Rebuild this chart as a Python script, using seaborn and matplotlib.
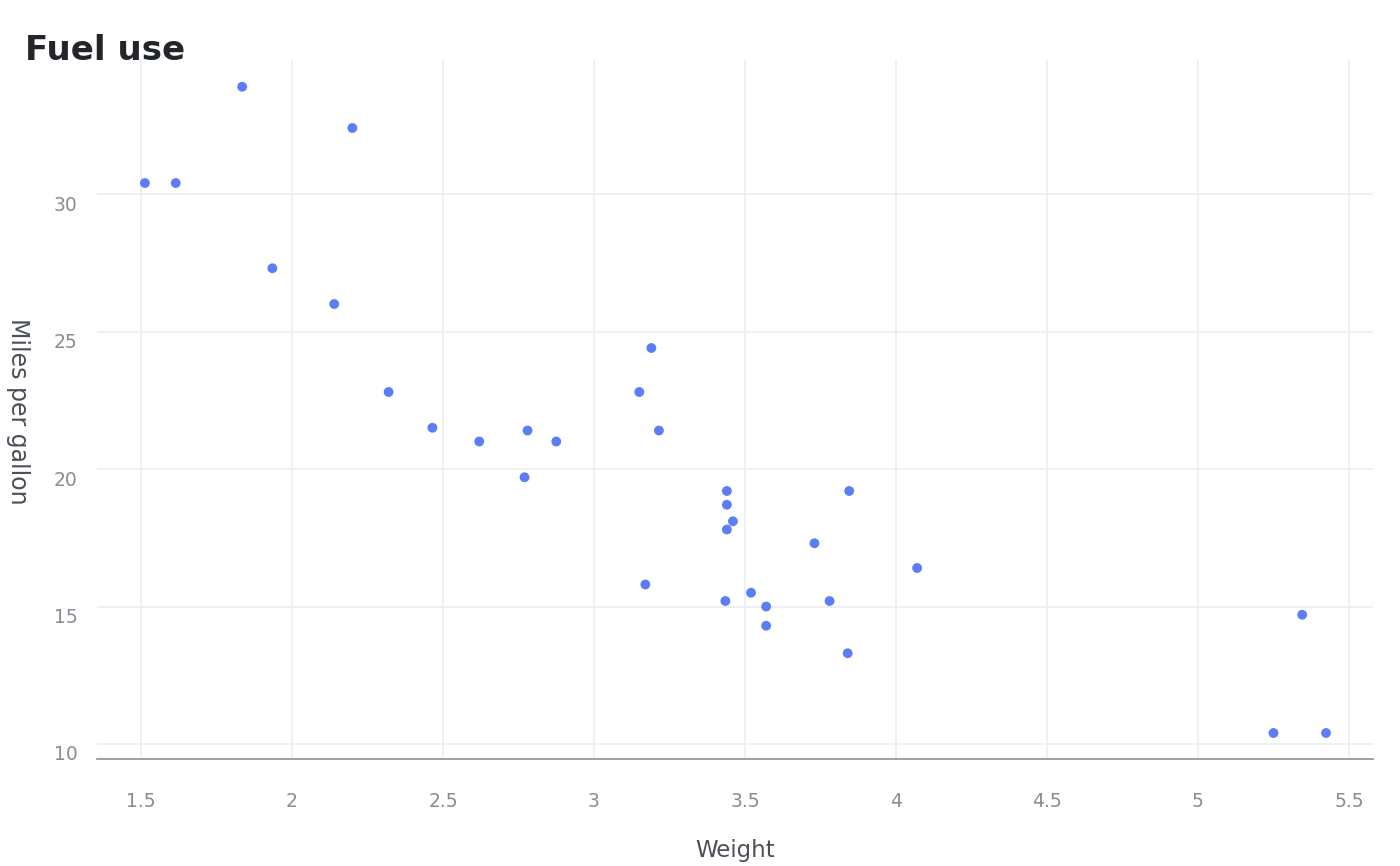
import matplotlib
matplotlib.use("Agg")
import matplotlib.pyplot as plt
import matplotlib.transforms as mtransforms
import seaborn as sns
import pandas as pd

# mtcars: weight (1000 lbs) and miles per gallon
weight = [2.620, 2.875, 2.320, 3.215, 3.440, 3.460, 3.570, 3.190, 3.150, 3.440,
          3.440, 4.070, 3.730, 3.780, 5.250, 5.424, 5.345, 2.200, 1.615, 1.835,
          2.465, 3.520, 3.435, 3.840, 3.845, 1.935, 2.140, 1.513, 3.170, 2.770,
          3.570, 2.780]
mpg = [21.0, 21.0, 22.8, 21.4, 18.7, 18.1, 14.3, 24.4, 22.8, 19.2,
       17.8, 16.4, 17.3, 15.2, 10.4, 10.4, 14.7, 32.4, 30.4, 33.9,
       21.5, 15.5, 15.2, 13.3, 19.2, 27.3, 26.0, 30.4, 15.8, 19.7,
       15.0, 21.4]
x_ticks = [1.5, 2, 2.5, 3, 3.5, 4, 4.5, 5, 5.5]
x_tick_labels = ["1.5", "2", "2.5", "3", "3.5", "4", "4.5", "5", "5.5"]
y_ticks = [10, 15, 20, 25, 30]
y_tick_labels = ["10", "15", "20", "25", "30"]

df = pd.DataFrame({"Weight": weight, "Miles per gallon": mpg})

sns.set_theme(style="white")
plt.rcParams["font.family"] = ["DejaVu Sans"]

fig = plt.figure(figsize=(14, 8.66), dpi=100)
ax = fig.add_axes([97 / 1400, 1 - 759 / 866, (1373 - 97) / 1400, (759 - 60) / 866])

sns.scatterplot(data=df, x="Weight", y="Miles per gallon", ax=ax,
                color="#5d7df6", s=50, edgecolor="none", linewidth=0, zorder=3)

ax.set_xlim(1.3543, 5.5795)
ax.set_ylim(9.4545, 34.873)
ax.set_xticks(x_ticks)
ax.set_xticklabels(x_tick_labels)
ax.set_yticks(y_ticks)
ax.set_yticklabels(y_tick_labels)

ax.grid(True, color="#eceef1", linewidth=1.2, zorder=0)
ax.set_axisbelow(True)
for side in ["top", "right", "left"]:
    ax.spines[side].set_visible(False)
ax.spines["bottom"].set_color("#8c8f94")
ax.spines["bottom"].set_linewidth(1.2)

ax.tick_params(axis="both", length=0, labelsize=13.5, labelcolor="#878c95")
ax.tick_params(axis="x", pad=24)
ax.tick_params(axis="y", pad=14)

offset = mtransforms.ScaledTranslation(0, -9 / 100, fig.dpi_scale_trans)
for lab in ax.get_yticklabels():
    lab.set_transform(lab.get_transform() + offset)

ax.set_xlabel("Weight", fontsize=16.5, color="#4a4f58", labelpad=0)
ax.set_ylabel("Miles per gallon", fontsize=17, color="#4a4f58", rotation=270,
              labelpad=0)
ax.xaxis.set_label_coords(0.5, 0, transform=mtransforms.blended_transform_factory(
    ax.transAxes, fig.transFigure))
ax.xaxis.label.set_position((0.5, 1 - 851 / 866))
ax.xaxis.label.set_va("center")
ax.yaxis.set_label_coords(18 / 1400, 1 - 411 / 866, transform=fig.transFigure)
ax.yaxis.label.set_va("center")
ax.yaxis.label.set_ha("center")

fig.text(25 / 1400, 1 - 51 / 866, "Fuel use", fontsize=24.5, fontweight="bold",
         color="#222529", ha="left", va="center")

fig.savefig("out.png", dpi=100, facecolor="white")
